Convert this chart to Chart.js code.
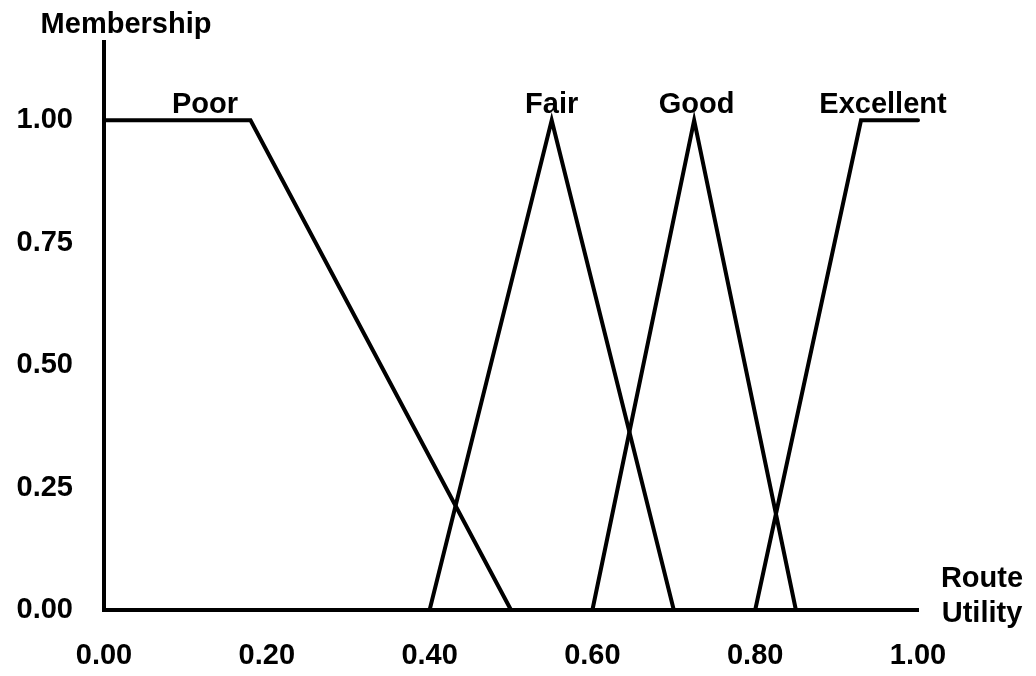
<!DOCTYPE html>
<html>
<head>
<meta charset="utf-8">
<script src="https://cdn.jsdelivr.net/npm/chart.js@4/dist/chart.umd.min.js"></script>
<style>
  body { margin: 0; background: #fff; }
  canvas { display: block; }
</style>
</head>
<body>
<canvas id="myChart" width="1036" height="676"></canvas>
<script>
// membership functions (route utility -> membership)
var poorX = [0, 0.18, 0.5];
var poorY = [1, 1, 0];
var fairX = [0.4, 0.55, 0.7];
var fairY = [0, 1, 0];
var goodX = [0.6, 0.725, 0.85];
var goodY = [0, 1, 0];
var excellentX = [0.8, 0.93, 1.0];
var excellentY = [0, 1, 1];

// set names and where their labels sit on the x axis
var setNames = ["Poor", "Fair", "Good", "Excellent"];
var setLabelX = [0.124, 0.55, 0.728, 0.957];

// tick labels
var xTicks = [0, 0.2, 0.4, 0.6, 0.8, 1.0];
var yTicks = [0, 0.25, 0.5, 0.75, 1.0];

var FONT = "'Liberation Sans', Arial, sans-serif";
var FONT_SIZE = 29;

function toPoints(xs, ys) {
    var pts = [];
    for (var i = 0; i < xs.length; i++) {
        pts.push({x: xs[i], y: ys[i]});
    }
    return pts;
}

function lineSet(xs, ys) {
    return {
        data: toPoints(xs, ys),
        showLine: true,
        borderColor: '#000',
        borderWidth: 4,
        borderJoinStyle: 'miter',
        borderCapStyle: 'round',
        pointRadius: 0,
        tension: 0,
        clip: false
    };
}

// draws the axis titles and set names
var textPlugin = {
    id: 'textPlugin',
    afterDraw: function(chart) {
        var ctx = chart.ctx;
        var xs = chart.scales.x;
        var ys = chart.scales.y;
        ctx.save();
        ctx.fillStyle = '#000';
        ctx.font = 'bold ' + FONT_SIZE + 'px ' + FONT;
        ctx.textAlign = 'center';
        ctx.textBaseline = 'alphabetic';
        ctx.fillText('Membership', 126, 33);
        ctx.fillText('Route', 982, 587);
        ctx.fillText('Utility', 982, 622);
        for (var i = 0; i < setNames.length; i++) {
            ctx.fillText(setNames[i], xs.getPixelForValue(setLabelX[i]), ys.getPixelForValue(1) - 7);
        }
        ctx.restore();
    }
};

window.addEventListener("DOMContentLoaded", function(event) {
    Chart.defaults.color = '#000';
    var ctx = document.getElementById('myChart');
    var myChart = new Chart(ctx, {
        type: 'scatter',
        data: {
            datasets: [
                lineSet(poorX, poorY),
                lineSet(fairX, fairY),
                lineSet(goodX, goodY),
                lineSet(excellentX, excellentY)
            ]
        },
        options: {
            responsive: false,
            animation: false,
            layout: {
                padding: {left: 0, right: 118, top: 42, bottom: 0}
            },
            plugins: {
                legend: {display: false},
                tooltip: {enabled: false}
            },
            scales: {
                x: {
                    type: 'linear',
                    min: 0,
                    max: 1,
                    grid: {display: false},
                    border: {display: true, color: '#000', width: 4},
                    afterBuildTicks: function(axis) {
                        axis.ticks = xTicks.map(function(v) { return {value: v}; });
                    },
                    afterFit: function(axis) {
                        axis.height = 66;
                        axis.paddingLeft = 0;
                        axis.paddingRight = 0;
                    },
                    ticks: {
                        padding: 21,
                        maxRotation: 0,
                        font: {family: FONT, size: FONT_SIZE, weight: 'bold'},
                        callback: function(v) { return Number(v).toFixed(2); }
                    }
                },
                y: {
                    type: 'linear',
                    min: 0,
                    max: 1.16,
                    grid: {display: false},
                    border: {display: true, color: '#000', width: 4},
                    afterBuildTicks: function(axis) {
                        axis.ticks = yTicks.map(function(v) { return {value: v}; });
                    },
                    afterFit: function(axis) {
                        axis.width = 104;
                        axis.paddingTop = 0;
                        axis.paddingBottom = 0;
                    },
                    ticks: {
                        padding: 23,
                        font: {family: FONT, size: FONT_SIZE, weight: 'bold'},
                        callback: function(v) { return Number(v).toFixed(2); }
                    }
                }
            }
        },
        plugins: [textPlugin]
    });
});
</script>
</body>
</html>
